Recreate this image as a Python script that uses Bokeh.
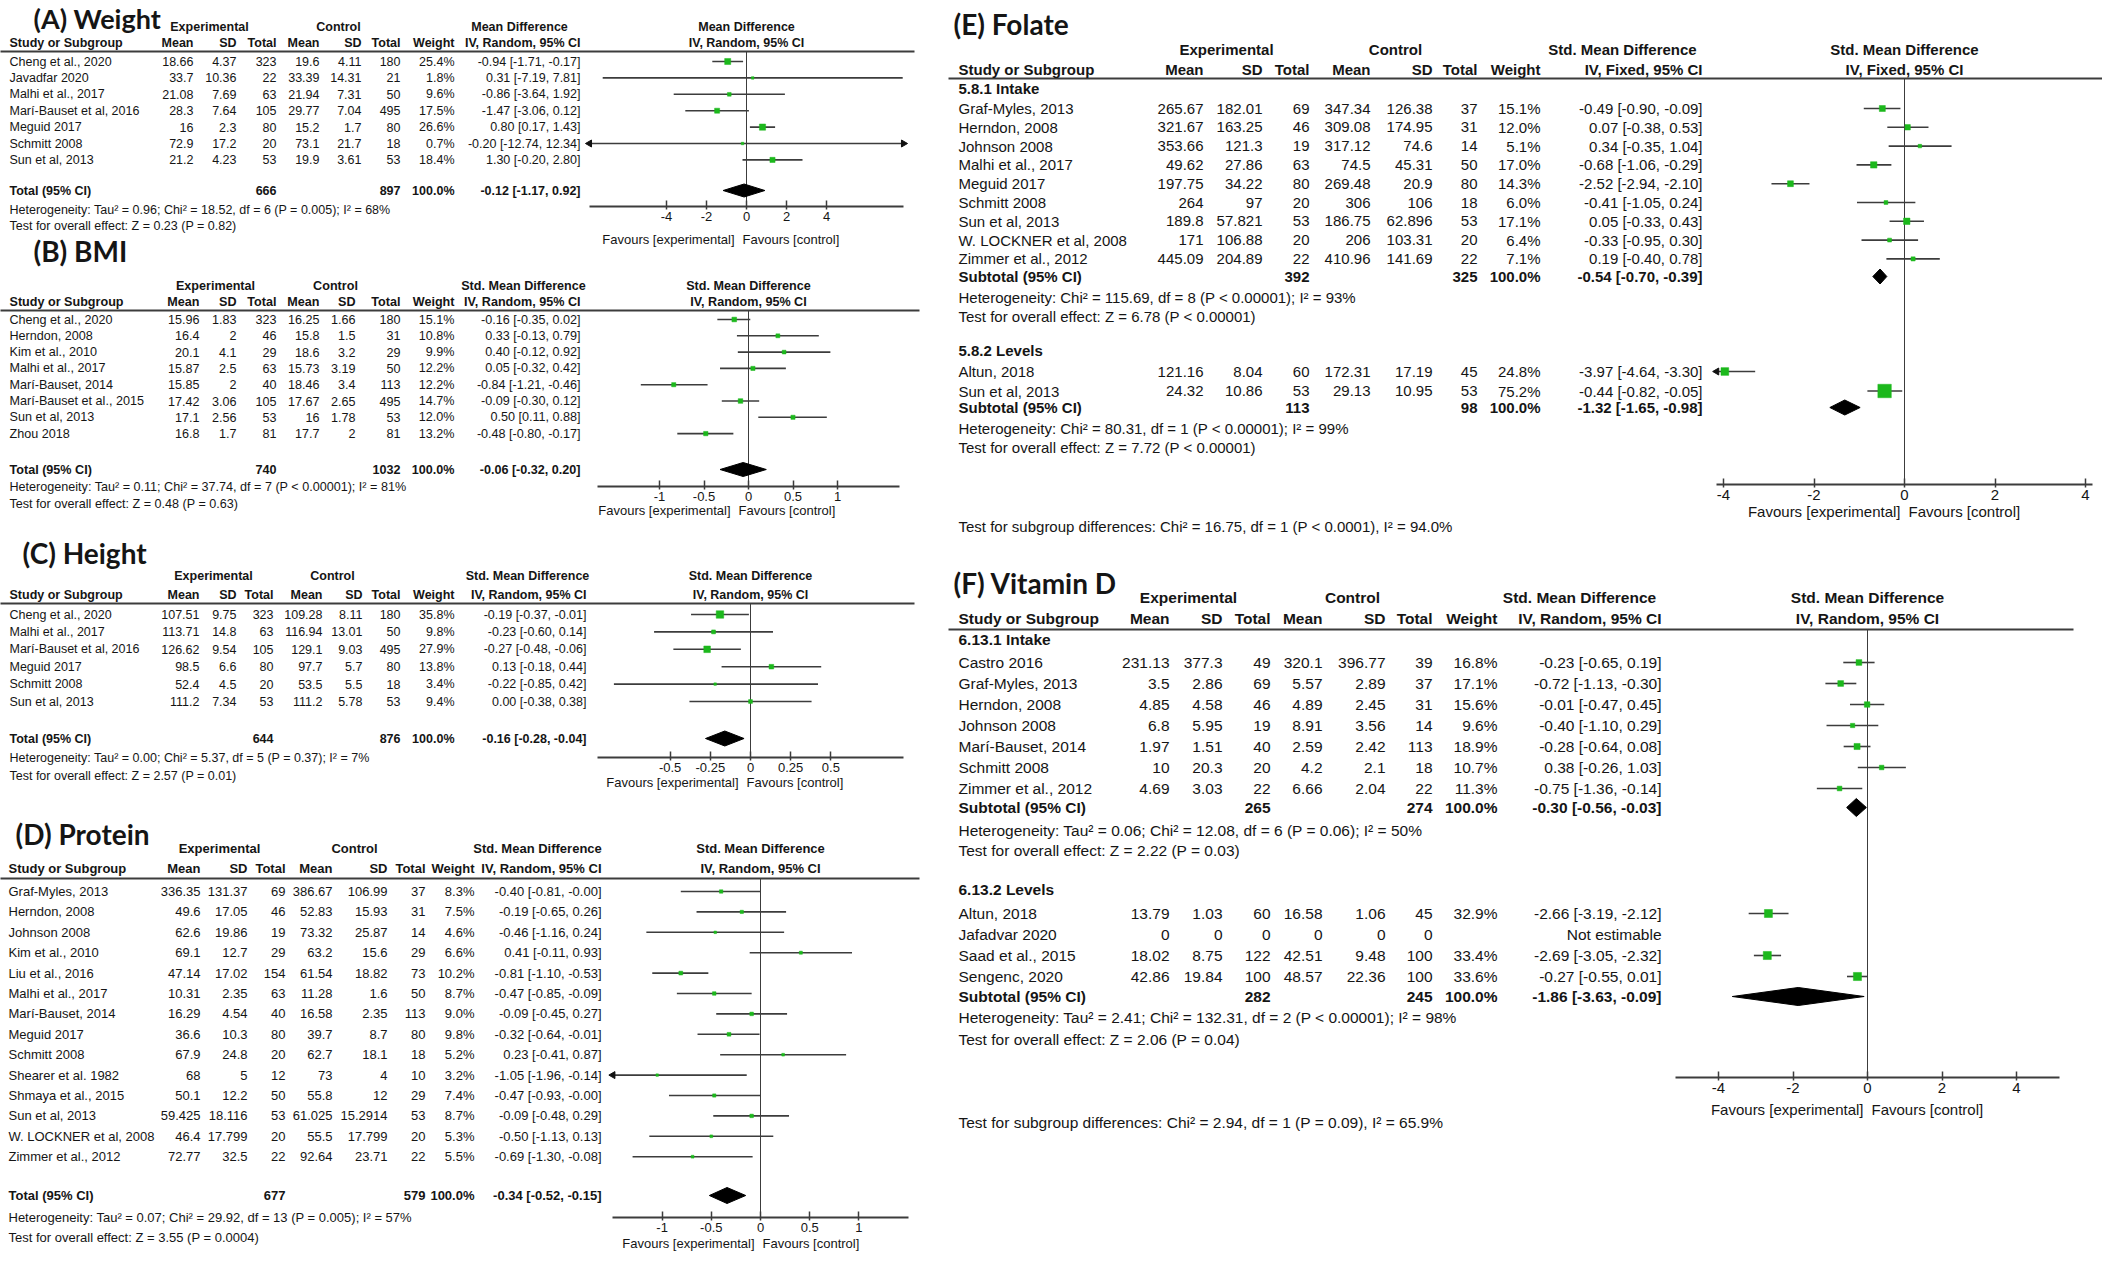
import math
from bokeh.plotting import figure
from bokeh.models import Range1d, LinearAxis, FixedTicker, CustomJSTickFormatter, ColumnDataSource
from bokeh.core.properties import field
from bokeh.embed import file_html
from bokeh.resources import INLINE

# ================= DATA =================
# (A) Weight  - Mean Difference, IV, Random
A_study = ["Cheng et al., 2020", "Javadfar 2020", "Malhi et al., 2017", "Marí-Bauset et al, 2016",
           "Meguid 2017", "Schmitt 2008", "Sun et al, 2013"]
A_exp_mean = [18.66, 33.7, 21.08, 28.3, 16, 72.9, 21.2]
A_exp_sd = [4.37, 10.36, 7.69, 7.64, 2.3, 17.2, 4.23]
A_exp_n = [323, 22, 63, 105, 80, 20, 53]
A_ctl_mean = [19.6, 33.39, 21.94, 29.77, 15.2, 73.1, 19.9]
A_ctl_sd = [4.11, 14.31, 7.31, 7.04, 1.7, 21.7, 3.61]
A_ctl_n = [180, 21, 50, 495, 80, 18, 53]
A_weight = [25.4, 1.8, 9.6, 17.5, 26.6, 0.7, 18.4]
A_est = [-0.94, 0.31, -0.86, -1.47, 0.80, -0.20, 1.30]
A_lo = [-1.71, -7.19, -3.64, -3.06, 0.17, -12.74, -0.20]
A_hi = [-0.17, 7.81, 1.92, 0.12, 1.43, 12.34, 2.80]
A_total_n = [666, 897]
A_total_ci = [-0.12, -1.17, 0.92]
A_het = "Heterogeneity: Tau² = 0.96; Chi² = 18.52, df = 6 (P = 0.005); I² = 68%"
A_test = "Test for overall effect: Z = 0.23 (P = 0.82)"
A_ticks = [-4, -2, 0, 2, 4]

# (B) BMI - Std. Mean Difference, IV, Random
B_study = ["Cheng et al., 2020", "Herndon, 2008", "Kim et al., 2010", "Malhi et al., 2017",
           "Marí-Bauset, 2014", "Marí-Bauset et al., 2015", "Sun et al, 2013", "Zhou 2018"]
B_exp_mean = [15.96, 16.4, 20.1, 15.87, 15.85, 17.42, 17.1, 16.8]
B_exp_sd = [1.83, 2, 4.1, 2.5, 2, 3.06, 2.56, 1.7]
B_exp_n = [323, 46, 29, 63, 40, 105, 53, 81]
B_ctl_mean = [16.25, 15.8, 18.6, 15.73, 18.46, 17.67, 16, 17.7]
B_ctl_sd = [1.66, 1.5, 3.2, 3.19, 3.4, 2.65, 1.78, 2]
B_ctl_n = [180, 31, 29, 50, 113, 495, 53, 81]
B_weight = [15.1, 10.8, 9.9, 12.2, 12.2, 14.7, 12.0, 13.2]
B_est = [-0.16, 0.33, 0.40, 0.05, -0.84, -0.09, 0.50, -0.48]
B_lo = [-0.35, -0.13, -0.12, -0.32, -1.21, -0.30, 0.11, -0.80]
B_hi = [0.02, 0.79, 0.92, 0.42, -0.46, 0.12, 0.88, -0.17]
B_total_n = [740, 1032]
B_total_ci = [-0.06, -0.32, 0.20]
B_het = "Heterogeneity: Tau² = 0.11; Chi² = 37.74, df = 7 (P < 0.00001); I² = 81%"
B_test = "Test for overall effect: Z = 0.48 (P = 0.63)"
B_ticks = [-1, -0.5, 0, 0.5, 1]

# (C) Height - Std. Mean Difference, IV, Random
C_study = ["Cheng et al., 2020", "Malhi et al., 2017", "Marí-Bauset et al, 2016", "Meguid 2017",
           "Schmitt 2008", "Sun et al, 2013"]
C_exp_mean = [107.51, 113.71, 126.62, 98.5, 52.4, 111.2]
C_exp_sd = [9.75, 14.8, 9.54, 6.6, 4.5, 7.34]
C_exp_n = [323, 63, 105, 80, 20, 53]
C_ctl_mean = [109.28, 116.94, 129.1, 97.7, 53.5, 111.2]
C_ctl_sd = [8.11, 13.01, 9.03, 5.7, 5.5, 5.78]
C_ctl_n = [180, 50, 495, 80, 18, 53]
C_weight = [35.8, 9.8, 27.9, 13.8, 3.4, 9.4]
C_est = [-0.19, -0.23, -0.27, 0.13, -0.22, 0.00]
C_lo = [-0.37, -0.60, -0.48, -0.18, -0.85, -0.38]
C_hi = [-0.01, 0.14, -0.06, 0.44, 0.42, 0.38]
C_total_n = [644, 876]
C_total_ci = [-0.16, -0.28, -0.04]
C_het = "Heterogeneity: Tau² = 0.00; Chi² = 5.37, df = 5 (P = 0.37); I² = 7%"
C_test = "Test for overall effect: Z = 2.57 (P = 0.01)"
C_ticks = [-0.5, -0.25, 0, 0.25, 0.5]

# (D) Protein - Std. Mean Difference, IV, Random
D_study = ["Graf-Myles, 2013", "Herndon, 2008", "Johnson 2008", "Kim et al., 2010", "Liu et al., 2016",
           "Malhi et al., 2017", "Marí-Bauset, 2014", "Meguid 2017", "Schmitt 2008", "Shearer et al. 1982",
           "Shmaya et al., 2015", "Sun et al, 2013", "W. LOCKNER et al, 2008", "Zimmer et al., 2012"]
D_exp_mean = [336.35, 49.6, 62.6, 69.1, 47.14, 10.31, 16.29, 36.6, 67.9, 68, 50.1, 59.425, 46.4, 72.77]
D_exp_sd = [131.37, 17.05, 19.86, 12.7, 17.02, 2.35, 4.54, 10.3, 24.8, 5, 12.2, 18.116, 17.799, 32.5]
D_exp_n = [69, 46, 19, 29, 154, 63, 40, 80, 20, 12, 50, 53, 20, 22]
D_ctl_mean = [386.67, 52.83, 73.32, 63.2, 61.54, 11.28, 16.58, 39.7, 62.7, 73, 55.8, 61.025, 55.5, 92.64]
D_ctl_sd = [106.99, 15.93, 25.87, 15.6, 18.82, 1.6, 2.35, 8.7, 18.1, 4, 12, 15.2914, 17.799, 23.71]
D_ctl_n = [37, 31, 14, 29, 73, 50, 113, 80, 18, 10, 29, 53, 20, 22]
D_weight = [8.3, 7.5, 4.6, 6.6, 10.2, 8.7, 9.0, 9.8, 5.2, 3.2, 7.4, 8.7, 5.3, 5.5]
D_est = [-0.40, -0.19, -0.46, 0.41, -0.81, -0.47, -0.09, -0.32, 0.23, -1.05, -0.47, -0.09, -0.50, -0.69]
D_lo = [-0.81, -0.65, -1.16, -0.11, -1.10, -0.85, -0.45, -0.64, -0.41, -1.96, -0.93, -0.48, -1.13, -1.30]
D_hi = [-0.0, 0.26, 0.24, 0.93, -0.53, -0.09, 0.27, -0.01, 0.87, -0.14, -0.0, 0.29, 0.13, -0.08]
D_total_n = [677, 579]
D_total_ci = [-0.34, -0.52, -0.15]
D_het = "Heterogeneity: Tau² = 0.07; Chi² = 29.92, df = 13 (P = 0.005); I² = 57%"
D_test = "Test for overall effect: Z = 3.55 (P = 0.0004)"
D_ticks = [-1, -0.5, 0, 0.5, 1]

# (E) Folate - Std. Mean Difference, IV, Fixed
E1_label = "5.8.1 Intake"
E1_study = ["Graf-Myles, 2013", "Herndon, 2008", "Johnson 2008", "Malhi et al., 2017", "Meguid 2017",
            "Schmitt 2008", "Sun et al, 2013", "W. LOCKNER et al, 2008", "Zimmer et al., 2012"]
E1_exp_mean = [265.67, 321.67, 353.66, 49.62, 197.75, 264, 189.8, 171, 445.09]
E1_exp_sd = [182.01, 163.25, 121.3, 27.86, 34.22, 97, 57.821, 106.88, 204.89]
E1_exp_n = [69, 46, 19, 63, 80, 20, 53, 20, 22]
E1_ctl_mean = [347.34, 309.08, 317.12, 74.5, 269.48, 306, 186.75, 206, 410.96]
E1_ctl_sd = [126.38, 174.95, 74.6, 45.31, 20.9, 106, 62.896, 103.31, 141.69]
E1_ctl_n = [37, 31, 14, 50, 80, 18, 53, 20, 22]
E1_weight = [15.1, 12.0, 5.1, 17.0, 14.3, 6.0, 17.1, 6.4, 7.1]
E1_est = [-0.49, 0.07, 0.34, -0.68, -2.52, -0.41, 0.05, -0.33, 0.19]
E1_lo = [-0.90, -0.38, -0.35, -1.06, -2.94, -1.05, -0.33, -0.95, -0.40]
E1_hi = [-0.09, 0.53, 1.04, -0.29, -2.10, 0.24, 0.43, 0.30, 0.78]
E1_sub_n = [392, 325]
E1_sub_ci = [-0.54, -0.70, -0.39]
E1_het = "Heterogeneity: Chi² = 115.69, df = 8 (P < 0.00001); I² = 93%"
E1_test = "Test for overall effect: Z = 6.78 (P < 0.00001)"
E2_label = "5.8.2 Levels"
E2_study = ["Altun, 2018", "Sun et al, 2013"]
E2_exp_mean = [121.16, 24.32]
E2_exp_sd = [8.04, 10.86]
E2_exp_n = [60, 53]
E2_ctl_mean = [172.31, 29.13]
E2_ctl_sd = [17.19, 10.95]
E2_ctl_n = [45, 53]
E2_weight = [24.8, 75.2]
E2_est = [-3.97, -0.44]
E2_lo = [-4.64, -0.82]
E2_hi = [-3.30, -0.05]
E2_sub_n = [113, 98]
E2_sub_ci = [-1.32, -1.65, -0.98]
E2_het = "Heterogeneity: Chi² = 80.31, df = 1 (P < 0.00001); I² = 99%"
E2_test = "Test for overall effect: Z = 7.72 (P < 0.00001)"
E_diff = "Test for subgroup differences: Chi² = 16.75, df = 1 (P < 0.0001), I² = 94.0%"
E_ticks = [-4, -2, 0, 2, 4]

# (F) Vitamin D - Std. Mean Difference, IV, Random
F1_label = "6.13.1 Intake"
F1_study = ["Castro 2016", "Graf-Myles, 2013", "Herndon, 2008", "Johnson 2008", "Marí-Bauset, 2014",
            "Schmitt 2008", "Zimmer et al., 2012"]
F1_exp_mean = [231.13, 3.5, 4.85, 6.8, 1.97, 10, 4.69]
F1_exp_sd = [377.3, 2.86, 4.58, 5.95, 1.51, 20.3, 3.03]
F1_exp_n = [49, 69, 46, 19, 40, 20, 22]
F1_ctl_mean = [320.1, 5.57, 4.89, 8.91, 2.59, 4.2, 6.66]
F1_ctl_sd = [396.77, 2.89, 2.45, 3.56, 2.42, 2.1, 2.04]
F1_ctl_n = [39, 37, 31, 14, 113, 18, 22]
F1_weight = [16.8, 17.1, 15.6, 9.6, 18.9, 10.7, 11.3]
F1_est = [-0.23, -0.72, -0.01, -0.40, -0.28, 0.38, -0.75]
F1_lo = [-0.65, -1.13, -0.47, -1.10, -0.64, -0.26, -1.36]
F1_hi = [0.19, -0.30, 0.45, 0.29, 0.08, 1.03, -0.14]
F1_sub_n = [265, 274]
F1_sub_ci = [-0.30, -0.56, -0.03]
F1_het = "Heterogeneity: Tau² = 0.06; Chi² = 12.08, df = 6 (P = 0.06); I² = 50%"
F1_test = "Test for overall effect: Z = 2.22 (P = 0.03)"
F2_label = "6.13.2 Levels"
F2_study = ["Altun, 2018", "Jafadvar 2020", "Saad et al., 2015", "Sengenc, 2020"]
F2_exp_mean = [13.79, 0, 18.02, 42.86]
F2_exp_sd = [1.03, 0, 8.75, 19.84]
F2_exp_n = [60, 0, 122, 100]
F2_ctl_mean = [16.58, 0, 42.51, 48.57]
F2_ctl_sd = [1.06, 0, 9.48, 22.36]
F2_ctl_n = [45, 0, 100, 100]
F2_weight = [32.9, None, 33.4, 33.6]
F2_est = [-2.66, None, -2.69, -0.27]
F2_lo = [-3.19, None, -3.05, -0.55]
F2_hi = [-2.12, None, -2.32, 0.01]
F2_sub_n = [282, 245]
F2_sub_ci = [-1.86, -3.63, -0.09]
F2_het = "Heterogeneity: Tau² = 2.41; Chi² = 132.31, df = 2 (P < 0.00001); I² = 98%"
F2_test = "Test for overall effect: Z = 2.06 (P = 0.04)"
F_diff = "Test for subgroup differences: Chi² = 2.94, df = 1 (P = 0.09), I² = 65.9%"
F_ticks = [-4, -2, 0, 2, 4]

# ================= STYLE / LAYOUT =================
W, H = 2102, 1253
X0, Y0 = 8, 8
BODY = "Liberation Sans"
TITLE_FONT = "Lato"
GREEN = "#1cb81c"
INK = "#151515"
LINE = "#3c3c3c"

p = figure(width=W, height=H, x_range=Range1d(X0, X0 + W), y_range=Range1d(Y0 + H, Y0),
           x_axis_type=None, y_axis_type=None, toolbar_location=None, output_backend="svg",
           min_border=0, outline_line_color=None, title=None)

texts = dict(x=[], y=[], text=[], align=[], style=[], size=[], font=[])


def T(x, y, s, align="left", bold=False, size=12.5, font=BODY):
    texts["x"].append(x)
    texts["y"].append(y)
    texts["text"].append(s)
    texts["align"].append(align)
    texts["style"].append("bold" if bold else "normal")
    texts["size"].append(f"{size}px")
    texts["font"].append(font)


def fmt(v):
    return f"{v:g}"


def ci_str(e, l, h):
    return f"{e:.2f} [{l:.2f}, {h:.2f}]"


def group(label, study, em, esd, en, cm, csd, cn, w, est, lo, hi, sub_label, sub_n, sub_ci, het, test):
    return dict(label=label, study=study, em=em, esd=esd, en=en, cm=cm, csd=csd, cn=cn, w=w,
                est=est, lo=lo, hi=hi, sub_label=sub_label, sub_n=sub_n, sub_ci=sub_ci, het=het, test=test)


def panel(L, groups, ticks, diff=None):
    rng = L["name"]
    p.extra_x_ranges[rng] = Range1d((X0 - L["zero"]) / L["scale"], (X0 + W - L["zero"]) / L["scale"])
    fs = L["fs"]
    c = L["cols"]
    T(L["title_x"], L["title_y"], L["title"], "left", True, L["title_fs"], TITLE_FONT)
    # header rows
    T(L["exp_cx"], L["h1"], "Experimental", "center", True, fs)
    T(L["ctl_cx"], L["h1"], "Control", "center", True, fs)
    T(L["ci_cx"], L["h1"], L["measure"], "center", True, fs)
    T(L["zero"], L["h1"], L["measure"], "center", True, fs)
    T(c[0], L["h2"], "Study or Subgroup", "left", True, fs)
    for xx, s in zip(c[1:8], ["Mean", "SD", "Total", "Mean", "SD", "Total", "Weight"]):
        T(xx, L["h2"], s, "right", True, fs)
    T(c[8], L["h2"], L["method"], "right", True, fs)
    T(L["zero"], L["h2"], L["method"], "center", True, fs)
    rx0, rx1, ry = L["rule"]
    p.segment(x0=[rx0], y0=[ry], x1=[rx1], y1=[ry], line_color=LINE, line_width=2)
    # zero line
    p.segment(x0=[0], y0=[ry], x1=[0], y1=[L["axis_y"]], x_range_name=rng, line_color=LINE, line_width=1)
    b = L["bound"]
    for g, G in zip(L["groups"], groups):
        if G["label"]:
            T(c[0], g["label_y"], G["label"], "left", True, fs)
        n = len(G["study"])
        ys = [g["row0"] + i * g["step"] for i in range(n)]
        fx, fy, fsz, x0s, x1s, arx, ary, ara = [], [], [], [], [], [], [], []
        for i in range(n):
            T(c[0], ys[i], G["study"][i], "left", False, fs)
            vals = [G["em"][i], G["esd"][i], G["en"][i], G["cm"][i], G["csd"][i], G["cn"][i]]
            for xx, v in zip(c[1:7], vals):
                T(xx, ys[i], fmt(v), "right", False, fs)
            if G["w"][i] is not None:
                T(c[7], ys[i], f"{G['w'][i]:.1f}%", "right", False, fs)
            if G["est"][i] is None:
                T(c[8], ys[i], "Not estimable", "right", False, fs)
                continue
            T(c[8], ys[i], ci_str(G["est"][i], G["lo"][i], G["hi"][i]), "right", False, fs)
            fx.append(G["est"][i])
            fy.append(ys[i])
            fsz.append(max(2.5, L["sq_k"] * math.sqrt(G["w"][i])))
            lo_c = max(G["lo"][i], -b)
            hi_c = min(G["hi"][i], b)
            x0s.append(lo_c)
            x1s.append(hi_c)
            if G["lo"][i] < -b:
                arx.append(-b); ary.append(ys[i]); ara.append(math.pi / 2)
            if G["hi"][i] > b:
                arx.append(b); ary.append(ys[i]); ara.append(-math.pi / 2)
        p.segment(x0=x0s, y0=fy, x1=x1s, y1=fy, x_range_name=rng, line_color=LINE, line_width=1.6)
        p.scatter(x=fx, y=fy, size=fsz, marker="square", x_range_name=rng,
                  fill_color=GREEN, line_color=GREEN, line_width=0.5)
        if arx:
            p.scatter(x=arx, y=ary, angle=ara, marker="triangle", size=7, x_range_name=rng,
                      fill_color="#111111", line_color="#111111")
        # subtotal / total row
        sy = g["sub_y"]
        T(c[0], sy, G["sub_label"], "left", True, fs)
        T(c[3], sy, str(G["sub_n"][0]), "right", True, fs)
        T(c[6], sy, str(G["sub_n"][1]), "right", True, fs)
        T(c[7], sy, "100.0%", "right", True, fs)
        e, l, h = G["sub_ci"]
        T(c[8], sy, ci_str(e, l, h), "right", True, fs)
        dh = L["dia_h"] / 2
        p.patches(xs=[[l, e, h, e]], ys=[[sy, sy - dh, sy, sy + dh]], x_range_name=rng,
                  fill_color="#000000", line_color="#000000", line_width=1)
        T(c[0], g["het_y"], G["het"], "left", False, fs)
        T(c[0], g["test_y"], G["test"], "left", False, fs)
    if diff:
        T(c[0], L["diff_y"], diff, "left", False, fs)
    # axis
    ax = LinearAxis(x_range_name=rng, fixed_location=L["axis_y"], bounds=(-b, b),
                    ticker=FixedTicker(ticks=ticks),
                    formatter=CustomJSTickFormatter(code="return String(tick)"),
                    axis_line_color=LINE, axis_line_width=2,
                    major_tick_line_color=LINE, major_tick_line_width=1.5,
                    major_tick_in=6, major_tick_out=3, minor_tick_in=0, minor_tick_out=0,
                    major_label_text_font=BODY, major_label_text_font_size=f"{L['tick_fs']}px",
                    major_label_text_color=INK, major_label_standoff=2)
    p.add_layout(ax, "below")
    fz = L["zero"] + L["fav_c"]
    T(fz - 4, L["fav_y"], "Favours [experimental]", "right", False, L["tick_fs"])
    T(fz + 4, L["fav_y"], "Favours [control]", "left", False, L["tick_fs"])


LAY_A = dict(name="A", title="(A) Weight", title_x=41, title_y=26, title_fs=27, fs=12.5, tick_fs=13,
             measure="Mean Difference", method="IV, Random, 95% CI",
             cols=[17, 201, 244, 284, 327, 369, 408, 462, 588],
             exp_cx=217, ctl_cx=346, ci_cx=527, h1=34, h2=50, rule=(5, 922, 59),
             zero=754, scale=20.0, bound=7.85, axis_y=214, fav_y=247, fav_c=-8, sq_k=1.2, dia_h=13,
             groups=[dict(label_y=None, row0=69, step=16.4, sub_y=198, het_y=217, test_y=233)])
LAY_B = dict(name="B", title="(B) BMI", title_x=41, title_y=258, title_fs=28, fs=12.6, tick_fs=13,
             measure="Std. Mean Difference", method="IV, Random, 95% CI",
             cols=[17, 207, 244, 284, 327, 363, 408, 462, 588],
             exp_cx=223, ctl_cx=343, ci_cx=531, h1=293, h2=309, rule=(5, 927, 318),
             zero=756, scale=89.0, bound=1.7, axis_y=494, fav_y=518, fav_c=-14, sq_k=1.2, dia_h=14,
             groups=[dict(label_y=None, row0=327, step=16.3, sub_y=477, het_y=494, test_y=511)])
LAY_C = dict(name="C", title="(C) Height", title_x=30, title_y=560, title_fs=28, fs=12.5, tick_fs=13,
             measure="Std. Mean Difference", method="IV, Random, 95% CI",
             cols=[17, 207, 244, 281, 330, 370, 408, 462, 594],
             exp_cx=221, ctl_cx=340, ci_cx=535, h1=583, h2=602, rule=(5, 922, 611),
             zero=758, scale=160.7, bound=0.955, axis_y=765, fav_y=790, fav_c=-8, sq_k=1.25, dia_h=15,
             groups=[dict(label_y=None, row0=622, step=17.4, sub_y=746, het_y=765, test_y=783)])
LAY_D = dict(name="D", title="(D) Protein", title_x=23, title_y=841, title_fs=28, fs=13, tick_fs=13,
             measure="Std. Mean Difference", method="IV, Random, 95% CI",
             cols=[16, 208, 255, 293, 340, 395, 433, 482, 609],
             exp_cx=227, ctl_cx=362, ci_cx=545, h1=856, h2=876, rule=(5, 927, 886),
             zero=768, scale=98.4, bound=1.5, axis_y=1225, fav_y=1251, fav_c=-2, sq_k=1.2, dia_h=16,
             groups=[dict(label_y=None, row0=899, step=20.4, sub_y=1203, het_y=1225, test_y=1245)])
LAY_E = dict(name="E", title="(E) Folate", title_x=961, title_y=31, title_fs=28, fs=15, tick_fs=15,
             measure="Std. Mean Difference", method="IV, Fixed, 95% CI",
             cols=[966, 1211, 1270, 1317, 1378, 1440, 1485, 1548, 1710],
             exp_cx=1234, ctl_cx=1403, ci_cx=1630, h1=57, h2=77, rule=(956, 2116, 86),
             zero=1912, scale=45.25, bound=4.15, axis_y=492, fav_y=519, fav_c=0, sq_k=1.55, dia_h=15,
             diff_y=534,
             groups=[dict(label_y=96, row0=116, step=18.8, sub_y=284, het_y=305, test_y=324),
                     dict(label_y=358, row0=379, step=19.5, sub_y=415, het_y=436, test_y=455)])
LAY_F = dict(name="F", title="(F) Vitamin D", title_x=961, title_y=590, title_fs=28, fs=15.5, tick_fs=15,
             measure="Std. Mean Difference", method="IV, Random, 95% CI",
             cols=[966, 1177, 1230, 1278, 1330, 1393, 1440, 1505, 1669],
             exp_cx=1196, ctl_cx=1360, ci_cx=1587, h1=605, h2=626, rule=(956, 2081, 637),
             zero=1875, scale=37.25, bound=5.15, axis_y=1085, fav_y=1117, fav_c=0, sq_k=1.4, dia_h=18,
             diff_y=1130,
             groups=[dict(label_y=647, row0=670, step=21, sub_y=815, het_y=838, test_y=858),
                     dict(label_y=897, row0=921, step=21, sub_y=1004, het_y=1025, test_y=1047)])

panel(LAY_A, [group(None, A_study, A_exp_mean, A_exp_sd, A_exp_n, A_ctl_mean, A_ctl_sd, A_ctl_n, A_weight,
                    A_est, A_lo, A_hi, "Total (95% CI)", A_total_n, A_total_ci, A_het, A_test)], A_ticks)
panel(LAY_B, [group(None, B_study, B_exp_mean, B_exp_sd, B_exp_n, B_ctl_mean, B_ctl_sd, B_ctl_n, B_weight,
                    B_est, B_lo, B_hi, "Total (95% CI)", B_total_n, B_total_ci, B_het, B_test)], B_ticks)
panel(LAY_C, [group(None, C_study, C_exp_mean, C_exp_sd, C_exp_n, C_ctl_mean, C_ctl_sd, C_ctl_n, C_weight,
                    C_est, C_lo, C_hi, "Total (95% CI)", C_total_n, C_total_ci, C_het, C_test)], C_ticks)
panel(LAY_D, [group(None, D_study, D_exp_mean, D_exp_sd, D_exp_n, D_ctl_mean, D_ctl_sd, D_ctl_n, D_weight,
                    D_est, D_lo, D_hi, "Total (95% CI)", D_total_n, D_total_ci, D_het, D_test)], D_ticks)
panel(LAY_E, [group(E1_label, E1_study, E1_exp_mean, E1_exp_sd, E1_exp_n, E1_ctl_mean, E1_ctl_sd, E1_ctl_n,
                    E1_weight, E1_est, E1_lo, E1_hi, "Subtotal (95% CI)", E1_sub_n, E1_sub_ci, E1_het, E1_test),
              group(E2_label, E2_study, E2_exp_mean, E2_exp_sd, E2_exp_n, E2_ctl_mean, E2_ctl_sd, E2_ctl_n,
                    E2_weight, E2_est, E2_lo, E2_hi, "Subtotal (95% CI)", E2_sub_n, E2_sub_ci, E2_het, E2_test)],
      E_ticks, E_diff)
panel(LAY_F, [group(F1_label, F1_study, F1_exp_mean, F1_exp_sd, F1_exp_n, F1_ctl_mean, F1_ctl_sd, F1_ctl_n,
                    F1_weight, F1_est, F1_lo, F1_hi, "Subtotal (95% CI)", F1_sub_n, F1_sub_ci, F1_het, F1_test),
              group(F2_label, F2_study, F2_exp_mean, F2_exp_sd, F2_exp_n, F2_ctl_mean, F2_ctl_sd, F2_ctl_n,
                    F2_weight, F2_est, F2_lo, F2_hi, "Subtotal (95% CI)", F2_sub_n, F2_sub_ci, F2_het, F2_test)],
      F_ticks, F_diff)

p.text(x="x", y="y", text="text", source=ColumnDataSource(texts),
       text_align=field("align"), text_font_style=field("style"), text_font_size=field("size"),
       text_font=field("font"), text_baseline="middle", text_color=INK)

open("out.html", "w").write(file_html(p, INLINE))
